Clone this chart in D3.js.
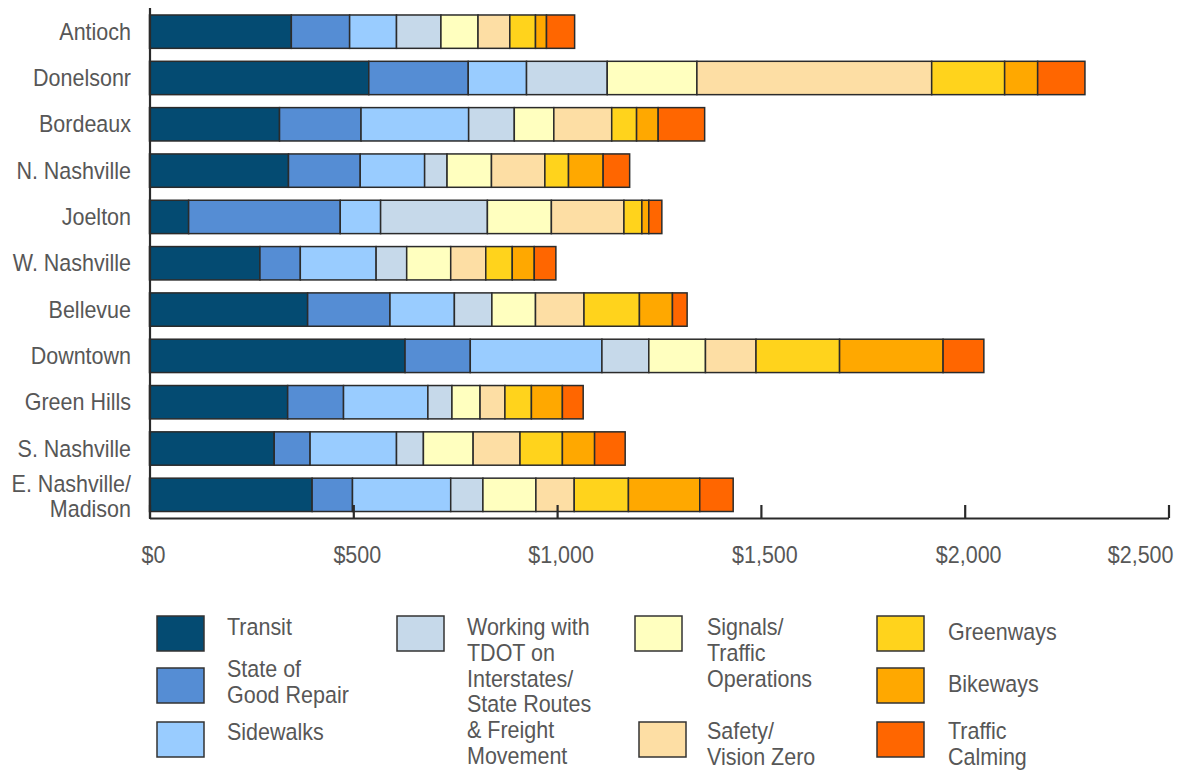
<!DOCTYPE html>
<html>
<head>
<meta charset="utf-8">
<script src="https://cdn.jsdelivr.net/npm/d3@7"></script>
<style>
  body { margin: 0; background: #fff; }
  text { font-family: "Liberation Sans", Arial, sans-serif; fill: #575757; }
</style>
</head>
<body>
<svg id="chart" width="1185" height="774"></svg>
<script>
// regions, top to bottom
const regions = ["Antioch", "Donelsonr", "Bordeaux", "N. Nashville", "Joelton", "W. Nashville",
  "Bellevue", "Downtown", "Green Hills", "S. Nashville", "E. Nashville/\nMadison"];

// spending per category ($)
const transit   = [348, 538, 319, 341,  96, 271, 388, 627, 339, 306, 399];
const repair    = [143, 244, 200, 176, 372,  99, 202, 160, 137,  88,  99];
const sidewalks = [115, 143, 264, 158,  99, 186, 158, 323, 207, 212, 241];
const tdot      = [109, 198, 112,  55, 262,  75,  92, 115,  59,  66,  79];
const signals   = [ 91, 220,  97, 109, 157, 108, 107, 139,  69, 122, 130];
const safety    = [ 78, 576, 142, 131, 178,  86, 119, 124,  61, 115,  94];
const greenways = [ 63, 179,  61,  58,  44,  65, 136, 205,  65, 104, 133];
const bikeways  = [ 27,  81,  53,  85,  17,  54,  81, 254,  76,  79, 175];
const calming   = [ 69, 116, 114,  65,  32,  53,  36, 100,  51,  75,  82];

const seriesKeys = ["transit", "repair", "sidewalks", "tdot", "signals", "safety", "greenways", "bikeways", "calming"];
const seriesLabels = ["Transit", "State of\nGood Repair", "Sidewalks",
  "Working with\nTDOT on\nInterstates/\nState Routes\n& Freight\nMovement",
  "Signals/\nTraffic\nOperations", "Safety/\nVision Zero", "Greenways", "Bikeways", "Traffic\nCalming"];
const colors = ["#044b72", "#558dd4", "#99ccff", "#c6d9ea", "#ffffbf", "#fddea4", "#ffd31c", "#ffa800", "#ff6600"];
const xTicks = [0, 500, 1000, 1500, 2000, 2500];

const table = regions.map((r, i) => ({
  region: r,
  transit: transit[i], repair: repair[i], sidewalks: sidewalks[i], tdot: tdot[i],
  signals: signals[i], safety: safety[i], greenways: greenways[i], bikeways: bikeways[i], calming: calming[i]
}));

const svg = d3.select("#chart");
const stretch = "scale(1,1.08)"; // source text is a little taller than Arial

const x = d3.scaleLinear().domain([0, 2500]).range([149.5, 1168.5]);
const y = d3.scaleBand().domain(regions).range([8.5, 518])
  .paddingInner(0.28).paddingOuter(0.14);
const color = d3.scaleOrdinal().domain(seriesKeys).range(colors);

const stacked = d3.stack().keys(seriesKeys)(table);

svg.append("g").selectAll("g")
  .data(stacked)
  .join("g")
    .attr("fill", d => color(d.key))
  .selectAll("rect")
  .data(d => d)
  .join("rect")
    .attr("x", d => x(d[0]))
    .attr("y", d => y(d.data.region))
    .attr("width", d => x(d[1]) - x(d[0]))
    .attr("height", y.bandwidth())
    .attr("stroke", "#2b2b2b")
    .attr("stroke-width", 1.5);

// bottom axis, ticks pointing up
const xAxis = svg.append("g")
  .attr("transform", "translate(0,518)")
  .call(d3.axisBottom(x).tickValues(xTicks).tickSizeInner(-13).tickSizeOuter(0).tickFormat(() => ""));
xAxis.select(".domain").attr("stroke", "#2a2a2a").attr("stroke-width", 2.2);
xAxis.selectAll(".tick line").attr("stroke", "#2a2a2a").attr("stroke-width", 2.2);

svg.append("g").selectAll("text")
  .data(xTicks)
  .join("text")
    .attr("transform", (d, i) => `translate(${i === xTicks.length - 1 ? x(d) + 5 : x(d) + 4},563) ${stretch}`)
    .attr("text-anchor", (d, i) => i === xTicks.length - 1 ? "end" : "middle")
    .attr("font-size", "21.5px")
    .text(d => d3.format("$,")(d));

// left axis line
svg.append("line")
  .attr("x1", 150).attr("x2", 150)
  .attr("y1", 8).attr("y2", 519)
  .attr("stroke", "#2a2a2a").attr("stroke-width", 2.2);

// region labels
svg.append("g").selectAll("text")
  .data(regions)
  .join("text")
    .attr("text-anchor", "end")
    .attr("font-size", "21.5px")
    .attr("transform", d => {
      const lines = d.split("\n").length;
      const cy = y(d) + y.bandwidth() / 2;
      return `translate(131,${cy + 8 - (lines - 1) * 11}) ${stretch}`;
    })
  .selectAll("tspan")
  .data(d => d.split("\n"))
  .join("tspan")
    .attr("x", 0)
    .attr("dy", (d, i) => i === 0 ? 0 : 23.2)
    .text(d => d);

// legend
const legendPos = [
  {x: 157, y: 616, tx: 227, ty: 635},
  {x: 157, y: 668, tx: 227, ty: 677},
  {x: 157, y: 722, tx: 227, ty: 740},
  {x: 397, y: 616, tx: 467, ty: 635},
  {x: 635, y: 616, tx: 707, ty: 635},
  {x: 639, y: 722, tx: 707, ty: 739},
  {x: 877, y: 616, tx: 948, ty: 640},
  {x: 877, y: 668, tx: 948, ty: 692},
  {x: 877, y: 722, tx: 948, ty: 739}
];

const legend = svg.append("g").selectAll("g")
  .data(seriesKeys)
  .join("g");

legend.append("rect")
  .attr("x", (d, i) => legendPos[i].x)
  .attr("y", (d, i) => legendPos[i].y)
  .attr("width", 47)
  .attr("height", 35)
  .attr("fill", d => color(d))
  .attr("stroke", "#333")
  .attr("stroke-width", 1.5);

legend.append("text")
  .attr("font-size", "21.5px")
  .attr("transform", (d, i) => `translate(${legendPos[i].tx},${legendPos[i].ty}) ${stretch}`)
  .selectAll("tspan")
  .data((d, i) => seriesLabels[i].split("\n"))
  .join("tspan")
    .attr("x", 0)
    .attr("dy", (d, i) => i === 0 ? 0 : 23.9)
    .text(d => d);
</script>
</body>
</html>
